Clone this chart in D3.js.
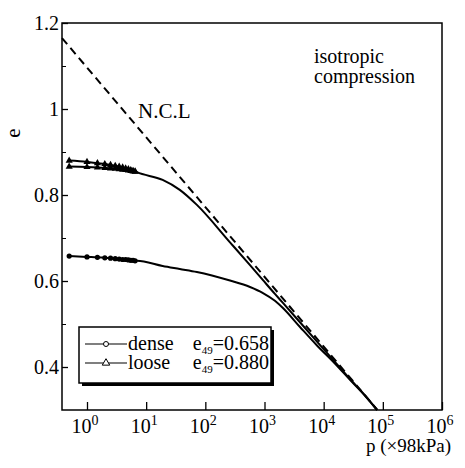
<!DOCTYPE html>
<html>
<head>
<meta charset="utf-8">
<script src="https://cdn.jsdelivr.net/npm/d3@7"></script>
<style>
  body { margin: 0; background: #fff; }
  svg text { font-family: "Liberation Serif", "Times New Roman", serif; }
</style>
</head>
<body>
<div id="chart"></div>
<script>
// pressure p (x 98kPa) at the measured points
var markerP = [0.5, 1, 1.5, 2, 2.5, 3, 3.5, 4, 4.5, 5, 5.5, 6, 6.5];
var denseMarkE = [0.658, 0.656, 0.655, 0.654, 0.653, 0.652, 0.651, 0.650, 0.650, 0.649, 0.648, 0.648, 0.647];
var looseMarkE = [0.880, 0.877, 0.874, 0.872, 0.870, 0.868, 0.866, 0.864, 0.862, 0.860, 0.858, 0.856, 0.855];
var loose2MarkE = [0.866, 0.865, 0.864, 0.863, 0.862, 0.861, 0.860, 0.859, 0.858, 0.857, 0.856, 0.855, 0.854];

// smooth curves beyond the markers
var curveP = [7, 19, 37, 72, 261, 569, 943, 1500, 2050, 3980, 7710, 15500, 27900, 50000, 80000];
var denseCurveE = [0.647, 0.635, 0.628, 0.621, 0.601, 0.586, 0.572, 0.554, 0.537, 0.493, 0.450, 0.408, 0.370, 0.333, 0.300];
var looseCurveE = [0.853, 0.835, 0.812, 0.777, 0.690, 0.637, 0.602, 0.570, 0.549, 0.504, 0.459, 0.412, 0.372, 0.334, 0.300];

// normal consolidation line
var nclP = [0.378, 80000];
var nclE = [1.165, 0.301];

var xTicks = [1, 10, 100, 1000, 10000, 100000, 1000000];
var xTickExp = ["0", "1", "2", "3", "4", "5", "6"];
var yMajor = [0.4, 0.6, 0.8, 1.0, 1.2];
var yMajorLabels = ["0.4", "0.6", "0.8", "1", "1.2"];
var yMinor = [0.5, 0.7, 0.9, 1.1];

var W = 465, H = 468;
var plotL = 62, plotR = 442, plotT = 23, plotB = 410;
var serif = '"Liberation Serif", "Times New Roman", serif';

var svg = d3.select('#chart').append('svg')
    .attr('width', W)
    .attr('height', H)
    .attr('font-family', serif);

var x = d3.scaleLog().domain([0.378, 1e6]).range([plotL, plotR]);
var y = d3.scaleLinear().domain([0.3, 1.2]).range([plotB, plotT]);

function pts(ps, es) {
    return ps.map(function(p, i) { return { p: p, e: es[i] }; });
}

var line = d3.line()
    .x(d => x(d.p))
    .y(d => y(d.e))
    .curve(d3.curveMonotoneX);

// frame
svg.append('rect')
    .attr('x', plotL).attr('y', plotT)
    .attr('width', plotR - plotL).attr('height', plotB - plotT)
    .attr('fill', 'none').attr('stroke', '#000').attr('stroke-width', 1.5);

// y axis ticks (inside)
svg.append('g')
    .attr('transform', 'translate(' + plotL + ',0)')
    .call(d3.axisLeft(y).tickValues(yMajor).tickSize(-6).tickPadding(3)
        .tickFormat((d, i) => yMajorLabels[i]))
    .attr('font-family', serif)
    .attr('font-size', 20)
    .call(g => g.select('.domain').remove())
    .call(g => g.selectAll('line').attr('stroke-width', 1.3))
    .call(g => g.selectAll('text').attr('fill', '#000'));

svg.append('g')
    .attr('transform', 'translate(' + plotL + ',0)')
    .call(d3.axisLeft(y).tickValues(yMinor).tickSize(-4).tickFormat(''))
    .call(g => g.select('.domain').remove());

// x axis ticks (inside)
svg.append('g')
    .attr('transform', 'translate(0,' + plotB + ')')
    .call(d3.axisBottom(x).tickValues(xTicks).tickSize(-8).tickFormat(''))
    .call(g => g.select('.domain').remove())
    .call(g => g.selectAll('line').attr('stroke-width', 1.3));

var xl = svg.append('g').selectAll('text')
    .data(xTicks)
    .join('text')
    .attr('x', d => x(d) - 2)
    .attr('y', 433)
    .attr('text-anchor', 'middle')
    .attr('font-size', 20);
xl.append('tspan').text('10');
xl.append('tspan').attr('dy', -8).attr('font-size', 14).text((d, i) => xTickExp[i]);

// axis titles
svg.append('text')
    .attr('transform', 'translate(20,133) rotate(-90)')
    .attr('text-anchor', 'middle')
    .attr('font-size', 21)
    .text('e');

svg.append('text')
    .attr('x', 451).attr('y', 452)
    .attr('text-anchor', 'end')
    .attr('font-size', 19)
    .text('p (\u00d798kPa)');

// NCL
svg.append('path')
    .datum(pts(nclP, nclE))
    .attr('d', d3.line().x(d => x(d.p)).y(d => y(d.e)))
    .attr('fill', 'none').attr('stroke', '#000')
    .attr('stroke-width', 2).attr('stroke-dasharray', '8,5');

// curves
var denseAll = pts(markerP, denseMarkE).concat(pts(curveP, denseCurveE));
var looseAll = pts(markerP, looseMarkE).concat(pts(curveP, looseCurveE));
var loose2 = pts(markerP, loose2MarkE).concat(pts(curveP.slice(0, 1), looseCurveE.slice(0, 1)));

[denseAll, looseAll, loose2].forEach(function(s) {
    svg.append('path')
        .datum(s)
        .attr('d', line)
        .attr('fill', 'none').attr('stroke', '#000').attr('stroke-width', 2);
});

// markers
svg.append('g').selectAll('circle')
    .data(pts(markerP, denseMarkE))
    .join('circle')
    .attr('cx', d => x(d.p)).attr('cy', d => y(d.e))
    .attr('r', 2.6).attr('fill', '#000');

var tri = d3.symbol().type(d3.symbolTriangle).size(22);
svg.append('g').selectAll('path')
    .data(pts(markerP, looseMarkE).concat(pts(markerP, loose2MarkE)))
    .join('path')
    .attr('transform', d => 'translate(' + x(d.p) + ',' + y(d.e) + ')')
    .attr('d', tri).attr('fill', '#000');

// annotations
svg.append('text').attr('x', 138).attr('y', 118).attr('font-size', 21).text('N.C.L');
svg.append('text').attr('x', 314).attr('y', 63).attr('font-size', 20).text('isotropic');
svg.append('text').attr('x', 314).attr('y', 83).attr('font-size', 20).text('compression');

// legend
var lg = svg.append('g');
lg.append('rect').attr('x', 82).attr('y', 330).attr('width', 192).attr('height', 56).attr('fill', '#000');
lg.append('rect').attr('x', 79).attr('y', 327).attr('width', 192).attr('height', 56)
    .attr('fill', '#fff').attr('stroke', '#000').attr('stroke-width', 1.5);

var legendNames = ['dense', 'loose'];
var legendValues = ['0.658', '0.880'];
var legendY = [344, 363];

legendNames.forEach(function(name, i) {
    var ly = legendY[i];
    lg.append('line').attr('x1', 85).attr('x2', 127).attr('y1', ly).attr('y2', ly)
        .attr('stroke', '#000').attr('stroke-width', 1.2);
    if (i === 0) {
        lg.append('circle').attr('cx', 106).attr('cy', ly).attr('r', 2.5)
            .attr('fill', '#fff').attr('stroke', '#000').attr('stroke-width', 1);
    } else {
        lg.append('path').attr('transform', 'translate(106,' + ly + ')')
            .attr('d', d3.symbol().type(d3.symbolTriangle).size(24))
            .attr('fill', '#fff').attr('stroke', '#000').attr('stroke-width', 1);
    }
    lg.append('text').attr('x', 128).attr('y', ly + 6).attr('font-size', 20).text(name);
    var t2 = lg.append('text').attr('x', 269).attr('y', ly + 6).attr('font-size', 20).attr('text-anchor', 'end');
    t2.append('tspan').text('e');
    t2.append('tspan').attr('dy', 4).attr('font-size', 11).text('49');
    t2.append('tspan').attr('dy', -4).text('=' + legendValues[i]);
});
</script>
</body>
</html>
